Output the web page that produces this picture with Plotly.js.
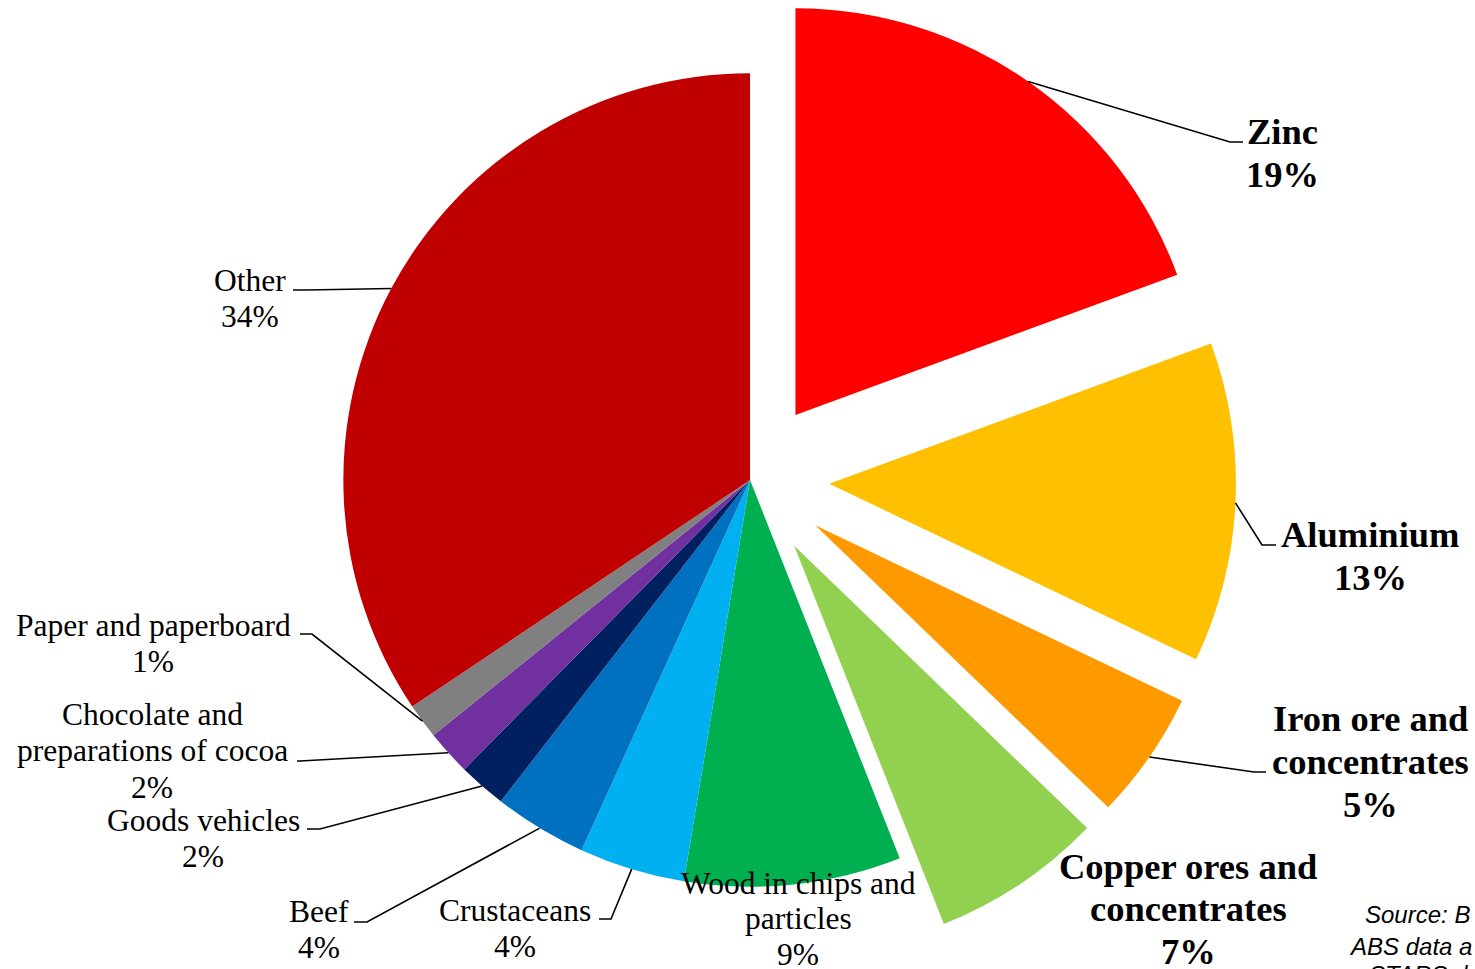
<!DOCTYPE html>
<html>
<head>
<meta charset="utf-8">
<script src="https://cdn.plot.ly/plotly-3.0.1.min.js"></script>
<style>
  html, body { margin: 0; padding: 0; width: 1475px; height: 969px; overflow: hidden; background: #fff; }
  #chart { position: absolute; left: 0; top: -6px; width: 1475px; height: 990px; }
</style>
</head>
<body>
<div id="chart"></div>
<script>
// ---- data ----
const categories = ['Zinc', 'Aluminium', 'Iron ore and concentrates', 'Copper ores and concentrates',
  'Wood in chips and particles', 'Crustaceans', 'Beef', 'Goods vehicles',
  'Chocolate and preparations of cocoa', 'Paper and paperboard', 'Other'];
const shares = [19.4, 12.7, 5.1, 6.8, 8.6, 4.2, 3.7, 1.9, 1.8, 1.4, 34.4];
const sliceColors = ['#FF0000', '#FFC000', '#FF9900', '#92D050', '#00B050', '#00B0F0',
  '#0070C0', '#002060', '#7030A0', '#808080', '#C00000'];
const pulled = [true, true, true, true, false, false, false, false, false, false, false];
const boldLabel = [true, true, true, true, false, false, false, false, false, false, false];

// ---- layout helpers (page pixels) ----
const W = 1475, DIVH = 990, TOP = -6;
const PULL = 0.195;
const DOMX = [0.17, 0.847];
const DOMY = [1 - 972 / DIVH, 1];
const CX = W * (DOMX[0] + DOMX[1]) / 2;
const CY = TOP + DIVH * (1 - DOMY[1]) + (DIVH * (DOMY[1] - DOMY[0])) / 2;
const R = Math.min(W * (DOMX[1] - DOMX[0]), DIVH * (DOMY[1] - DOMY[0])) / 2 / (1 + PULL);

function px(x) { return x / W; }
function py(y) { return 1 - (y - TOP) / DIVH; }

// label placement: line texts, centre x, line y's, leader elbow [x,y] and end x
const labelSpec = [
  { lines: ['Zinc'], cx: 1282, y0: 131, dy: 43, elbow: [1230, 142], end: 1243 },
  { lines: ['Aluminium'], cx: 1370, y0: 534, dy: 43, elbow: [1262, 545], end: 1276 },
  { lines: ['Iron ore and', 'concentrates'], cx: 1370, y0: 718, dy: 43, elbow: [1254, 772], end: 1266 },
  { lines: ['Copper ores and', 'concentrates'], cx: 1188, y0: 866, dy: 42.5, elbow: null },
  { lines: ['Wood in chips and', 'particles'], cx: 798, y0: 883, dy: 35.5, elbow: null },
  { lines: ['Crustaceans'], cx: 515, y0: 910, dy: 36, elbow: [611, 919], end: 599 },
  { lines: ['Beef'], cx: 319, y0: 911, dy: 36, elbow: [367, 922], end: 354 },
  { lines: ['Goods vehicles'], cx: 203, y0: 820, dy: 36, elbow: [320, 829], end: 307 },
  { lines: ['Chocolate and', 'preparations of cocoa'], cx: 152, y0: 714, dy: 36.5, elbow: [300, 761], end: 297 },
  { lines: ['Paper and paperboard'], cx: 153, y0: 625, dy: 36, elbow: [312, 634], end: 300 },
  { lines: ['Other'], cx: 250, y0: 280, dy: 36, elbow: [306, 290], end: 293 }
];

const total = shares.reduce((a, b) => a + b, 0);
const annotations = [];
const shapes = [];
let cum = 0;
shares.forEach((v, i) => {
  const mid = (cum + v / 2) / total * 2 * Math.PI;
  cum += v;
  const rr = R * (1 + (pulled[i] ? PULL : 0));
  const ax = CX + rr * Math.sin(mid);
  const ay = CY - rr * Math.cos(mid);
  const spec = labelSpec[i];
  const pct = Math.round(v / total * 100) + '%';
  const lines = spec.lines.concat([pct]);
  const bold = boldLabel[i];
  lines.forEach((t, k) => {
    annotations.push({
      xref: 'paper', yref: 'paper', x: px(spec.cx), y: py(spec.y0 + k * spec.dy),
      xanchor: 'center', yanchor: 'middle', showarrow: false,
      text: bold ? '<b>' + t + '</b>' : t,
      font: { family: 'Liberation Serif, Times New Roman, serif', size: bold ? 36.5 : 31.5, color: '#000' }
    });
  });
  if (spec.elbow) {
    shapes.push({
      type: 'path', xref: 'paper', yref: 'paper',
      path: 'M ' + px(ax) + ',' + py(ay) + ' L ' + px(spec.elbow[0]) + ',' + py(spec.elbow[1]) +
            ' L ' + px(spec.end) + ',' + py(spec.elbow[1]),
      line: { color: '#000', width: 1.6 }
    });
  }
});

// source note (cut off at the right edge, as in the original)
const sourceLines = ['Source: B', 'ABS data a', 'STARS d'];
const sourceX = [1363, 1347, 1367];
const sourceY = [914, 946, 974];
sourceLines.forEach((t, k) => {
  annotations.push({
    xref: 'paper', yref: 'paper', x: px(sourceX[k]), y: py(sourceY[k]),
    xanchor: 'left', yanchor: 'middle', showarrow: false, text: '<i>' + t + '</i>',
    font: { family: 'Liberation Sans, Arial, sans-serif', size: 24, color: '#000' }
  });
});

const trace = {
  type: 'pie',
  labels: categories,
  values: shares,
  sort: false,
  direction: 'clockwise',
  rotation: 0,
  pull: pulled.map(p => p ? PULL : 0),
  marker: { colors: sliceColors, line: { width: 0 } },
  textinfo: 'none',
  hoverinfo: 'none',
  domain: { x: DOMX, y: DOMY }
};

const layout = {
  width: W, height: DIVH,
  margin: { l: 0, r: 0, t: 0, b: 0 },
  showlegend: false,
  paper_bgcolor: '#fff',
  annotations: annotations,
  shapes: shapes
};

Plotly.newPlot('chart', [trace], layout, { staticPlot: true, displayModeBar: false });
</script>
</body>
</html>
